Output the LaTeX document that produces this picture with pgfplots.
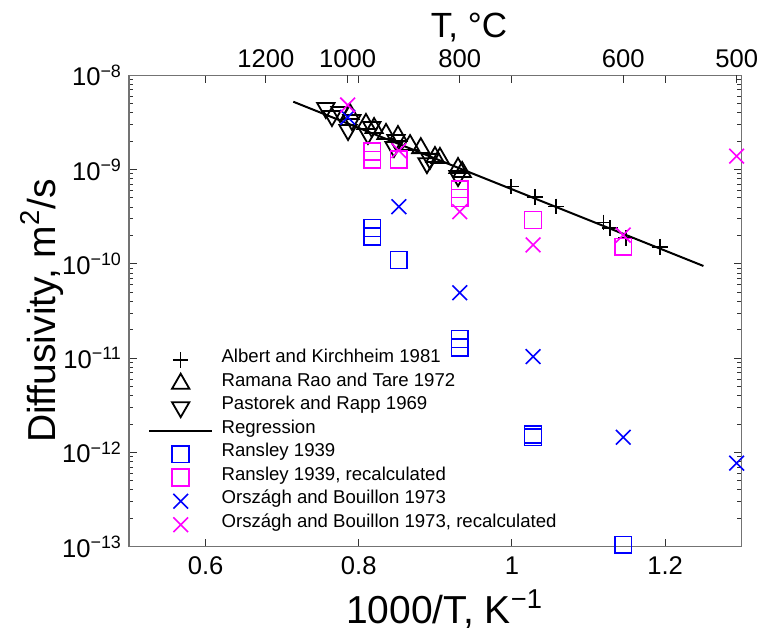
\documentclass[border=0pt]{standalone}
\usepackage{fontspec}
\setmainfont{Liberation Sans}
\usepackage{pgfplots}
\pgfplotsset{compat=1.18}
\definecolor{mblue}{rgb}{0,0,1}
\definecolor{mmag}{rgb}{1,0,1}
\definecolor{axgray}{rgb}{0.45,0.45,0.45}
\begin{document}
\begin{tikzpicture}
\begin{axis}[
  at={(0,0)}, anchor=south west,
  scale only axis, width=306.35pt, height=235.7pt,
  xmin=0.5, xmax=1.3, ymin=1e-13, ymax=1e-8,
  ymode=log,
  axis line style={axgray, line width=0.6pt},
  tick style={black!80, line width=0.5pt},
  tick align=inside,
  major tick length=4pt, minor tick length=2.2pt,
  xtick={0.6,0.8,1,1.2},
  xticklabels={0.6,0.8,1,1.2},
  xticklabel pos=lower, yticklabel pos=left,
  ytick={1e-13,1e-12,1e-11,1e-10,1e-9,1e-8},
  yticklabels={10\textsuperscript{−13},10\textsuperscript{−12},10\textsuperscript{−11},10\textsuperscript{−10},10\textsuperscript{−9},10\textsuperscript{−8}},
  ticklabel style={font=\fontsize{12.8}{14}\selectfont},
  xticklabel style={yshift=-1.5pt},
  xlabel={1000/T, K\textsuperscript{−1}},
  ylabel={Diffusivity, m\textsuperscript{2}/s},
  label style={font=\fontsize{19.5}{22}\selectfont},
  xlabel style={at={(axis description cs:0.515,0)}, anchor=center, yshift=-31pt},
  ylabel style={at={(axis description cs:-0.142,0.5)}, anchor=center},
  legend style={draw=none, fill=none, at={(axis description cs:0.031,0.4215)}, anchor=north west,
    font=\fontsize{9.3}{11}\selectfont, row sep=0pt, inner sep=0pt, column sep=4.3pt,
    nodes={inner sep=0pt, text height=7.2pt, text depth=4.55pt}},
  legend cell align=left,
  legend image code/.code={\draw[mark repeat=2,mark phase=2,#1] plot coordinates {(0cm,0cm) (0.55cm,0cm) (1.1cm,0cm)};},
]
\addplot[only marks, black, mark=+, mark size=3.9pt, mark options={line width=0.8pt}] coordinates {
(0.999,6.6e-10) (1.030,5.1e-10) (1.0575,4.06e-10) (1.1195,2.75e-10) (1.128,2.39e-10) (1.149,1.88e-10) (1.193,1.52e-10)};
\addlegendentry{Albert and Kirchheim 1981}
\addplot[only marks, black, mark=triangle, mark size=5pt, mark options={line width=0.9pt, fill=none}] coordinates {
(0.7885,3.89e-9) (0.8094,3.05e-9) (0.820,2.76e-9) (0.8356,2.39e-9) (0.8512,2.27e-9) (0.867,1.82e-9) (0.881,1.69e-9) (0.8995,1.36e-9) (0.906,1.33e-9) (0.9296,1.04e-9) (0.935,9.44e-10)};
\addlegendentry{Ramana Rao and Tare 1972}
\addplot[only marks, black, mark=triangle, mark size=5pt, mark options={line width=0.9pt, fill=none, rotate=180}] coordinates {
(0.757,4.50e-9) (0.765,3.70e-9) (0.7755,4.08e-9) (0.786,2.63e-9) (0.791,3.36e-9) (0.812,2.39e-9) (0.817,2.83e-9) (0.8486,2.06e-9) (0.846,1.74e-9) (0.893,1.30e-9) (0.889,1.17e-9) (0.9296,8.55e-10)};
\addlegendentry{Pastorek and Rapp 1969}
\addplot[black, line width=1pt, no marks] coordinates {(0.7145,5.25e-9) (1.25,9.5e-11)};
\addlegendentry{Regression}
\addplot[only marks, mblue, mark=square, mark size=4.2pt, mark options={line width=0.8pt}] coordinates {
(0.8176,2.4e-10) (0.8176,1.95e-10) (0.8524,1.1e-10) (0.9319,1.6e-11) (0.9319,1.3e-11) (1.0276,1.55e-12) (1.0276,1.45e-12) (1.1453,1.05e-13)};
\addlegendentry{Ransley 1939}
\addplot[only marks, mmag, mark=square, mark size=4.2pt, mark options={line width=0.8pt}] coordinates {
(0.8176,1.55e-9) (0.8176,1.27e-9) (0.8524,1.28e-9) (0.9319,6.2e-10) (0.9319,5.0e-10) (1.0276,2.92e-10) (1.1453,1.52e-10)};
\addlegendentry{Ransley 1939, recalculated}
\addplot[only marks, mblue, mark=x, mark size=5.2pt, mark options={line width=0.8pt}] coordinates {
(0.7855,3.59e-9) (0.8524,4.04e-10) (0.9319,4.95e-11) (1.0276,1.04e-11) (1.1453,1.45e-12) (1.2934,7.7e-13)};
\addlegendentry{Országh and Bouillon 1973}
\addplot[only marks, mmag, mark=x, mark size=5.2pt, mark options={line width=0.8pt}] coordinates {
(0.7855,4.84e-9) (0.8524,1.59e-9) (0.9319,3.58e-10) (1.0276,1.59e-10) (1.1453,2.02e-10) (1.2934,1.39e-9)};
\addlegendentry{Országh and Bouillon 1973, recalculated}
\end{axis}
\begin{axis}[
  at={(0,0)}, anchor=south west,
  scale only axis, width=306.35pt, height=235.7pt,
  xmin=0.5, xmax=1.3, ymin=0, ymax=1,
  axis x line*=top, axis y line=none,
  axis line style={draw=none},
  tick style={black!80, line width=0.5pt},
  tick align=inside, major tick length=4pt,
  xtick={0.67881,0.78549,0.93185,1.14526,1.29341},
  xticklabels={1200,1000,800,600,500},
  ticklabel style={font=\fontsize{12.8}{14}\selectfont},
  xlabel={T, °C},
  xlabel style={font=\fontsize{17.5}{20}\selectfont, at={(axis description cs:0.555,1)}, anchor=center, yshift=24pt},
]
\addplot[draw=none] coordinates {(0.6,0.5)};
\end{axis}
\pgfresetboundingbox
\path[use as bounding box] (-64.5pt,-41.15pt) rectangle (317.5pt,273.35pt);
\end{tikzpicture}
\end{document}
